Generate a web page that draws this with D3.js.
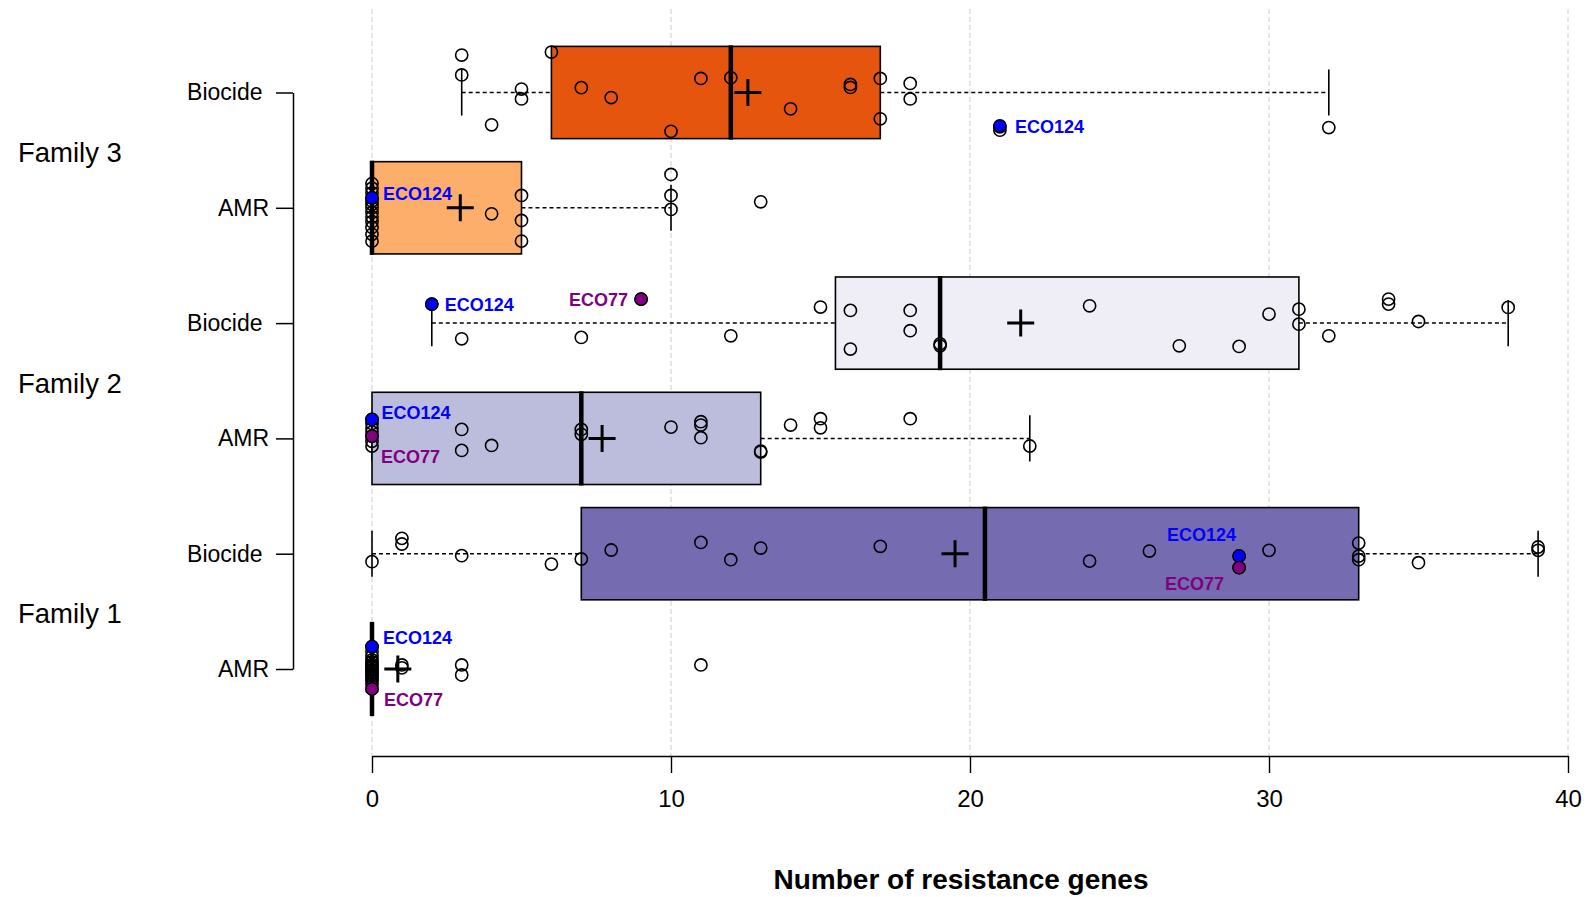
<!DOCTYPE html>
<html>
<head>
<meta charset="utf-8">
<script src="https://cdn.jsdelivr.net/npm/d3@7"></script>
<style>
  html, body { margin: 0; padding: 0; background: #fff; }
  svg text { font-family: "Liberation Sans", Arial, Helvetica, sans-serif; fill: #000; }
</style>
</head>
<body>
<svg id="chart" width="1592" height="897"></svg>
<script>
// ---- Data ---------------------------------------------------------------
// Groups listed bottom to top
const groupKeys  = ["F1 AMR", "F1 Biocide", "F2 AMR", "F2 Biocide", "F3 AMR", "F3 Biocide"];
const groupTypes = ["AMR", "Biocide", "AMR", "Biocide", "AMR", "Biocide"];
const families   = ["Family 1", "Family 2", "Family 3"];
const boxFills   = ["#ffffff", "#756bb1", "#bcbddc", "#efedf5", "#fdae6b", "#e6550d"];
const xTicks     = [0, 10, 20, 30, 40];
const xTitle     = "Number of resistance genes";

// Number of resistance genes per strain, with the vertical jitter of each dot
// (in units of the row spacing, positive = downwards)
const f1Amr = [0,0,0,0,0,0,0,0,0,0,0,0,0,0,0,0,0, 1,1,3,3,11];
const f1AmrJitter = [-0.194,-0.15,-0.11,-0.08,-0.06,-0.04,-0.025,-0.01,0.005,0.02,0.035,0.05,0.065,0.08,0.10,0.13,0.173,
                     -0.035,-0.01,-0.035,0.052,-0.035];

const f1Biocide = [0,1,1,3,6,7,8,11,12,13,17,24,26,29,29,30,33,33,33,35,39,39];
const f1BiocideJitter = [0.069,-0.133,-0.084,0.017,0.090,0.046,-0.032,-0.098,0.052,-0.049,-0.064,
                         0.064,-0.023,0.020,0.121,-0.029,-0.092,0.020,0.052,0.078,-0.058,-0.029];

const f2Amr = [0,0,0,0,0,0,0,3,3,4,7,7,10,11,11,11,13,13,14,15,15,18,22];
const f2AmrJitter = [-0.165,-0.13,-0.09,-0.055,-0.02,0.025,0.066,-0.078,0.104,0.061,-0.078,-0.035,
                     -0.098,-0.145,-0.116,-0.006,0.110,0.118,-0.116,-0.171,-0.092,-0.171,0.066];

const f2Biocide = [2,3,7,9,12,15,16,16,18,18,19,19,24,27,29,30,31,31,32,34,34,35,38];
const f2BiocideJitter = [-0.165,0.136,0.124,-0.208,0.110,-0.139,-0.110,0.225,-0.110,0.066,0.197,0.180,
                         -0.150,0.197,0.202,-0.078,-0.121,0.009,0.110,-0.208,-0.165,-0.014,-0.136];

const f3Amr = [0,0,0,0,0,0,0,0,0,0,0,0,0,4,5,5,5,10,10,10,13];
const f3AmrJitter = [-0.21,-0.17,-0.13,-0.087,-0.06,-0.03,0.0,0.04,0.08,0.12,0.17,0.23,0.29,
                     0.052,-0.107,0.110,0.289,-0.289,-0.107,0.014,-0.052];

const f3Biocide = [3,3,4,5,5,6,7,8,10,11,12,14,16,16,17,17,18,18,21,21,32];
const f3BiocideJitter = [-0.325,-0.152,0.280,-0.030,0.056,-0.351,-0.042,0.044,0.337,-0.122,-0.128,
                         0.142,-0.070,-0.044,-0.122,0.228,-0.079,0.056,0.298,0.327,0.304];

const groupValues = [f1Amr, f1Biocide, f2Amr, f2Biocide, f3Amr, f3Biocide];
const groupJitter = [f1AmrJitter, f1BiocideJitter, f2AmrJitter, f2BiocideJitter, f3AmrJitter, f3BiocideJitter];

// Reference strains
const highlightStrain = ["ECO124", "ECO124", "ECO124", "ECO77", "ECO124", "ECO77", "ECO124", "ECO77", "ECO124", "ECO77"];
const highlightGroup  = ["F3 Biocide", "F3 AMR", "F2 Biocide", "F2 Biocide", "F2 AMR", "F2 AMR", "F1 Biocide", "F1 Biocide", "F1 AMR", "F1 AMR"];
const highlightValue  = [21, 0, 2, 9, 0, 0, 29, 29, 0, 0];
const highlightJitter = [0.29, -0.087, -0.165, -0.208, -0.165, -0.02, 0.02, 0.121, -0.194, 0.173];

// ---- Layout --------------------------------------------------------------
const strainColor = { ECO124: "#0000ff", ECO77: "#800080" };
// label placement relative to its dot: [dx, dy (text centre), anchor]
const labelPlace = [
  [15, 1, "start"], [11, -4.5, "start"], [13, 1, "start"], [-13, 0, "end"],
  [9.5, -6.5, "start"], [9, 21, "start"], [-72, -21, "start"], [-74, 16, "start"],
  [11, -9.5, "start"], [12, 10.5, "start"]
];

const svg = d3.select("#chart");

const x = d3.scaleLinear().domain([0, 40]).range([372, 1568]);
const y = d3.scalePoint().domain(groupKeys).range([669, 92.5]);
const band = y.step();
const halfBox = 0.4 * band;
const axisY = 756;

// Tukey five-number summary (hinges) as used by classic boxplots
function fivenum(arr) {
  const s = arr.slice().sort((a, b) => a - b);
  const n = s.length;
  const n4 = Math.floor((n + 3) / 2) / 2;
  const idx = [1, n4, (n + 1) / 2, n + 1 - n4, n];
  return idx.map(i => 0.5 * (s[Math.floor(i) - 1] + s[Math.ceil(i) - 1]));
}

const stats = groupKeys.map((k, i) => {
  const v = groupValues[i];
  const f = fivenum(v);
  const iqr = f[3] - f[1];
  const lo = d3.min(v.filter(d => d >= f[1] - 1.5 * iqr));
  const hi = d3.max(v.filter(d => d <= f[3] + 1.5 * iqr));
  return { key: k, q1: f[1], med: f[2], q3: f[3], lo, hi, mean: d3.mean(v), fill: boxFills[i] };
});

// ---- Grid -----------------------------------------------------------------
svg.append("g").selectAll("line").data(xTicks).join("line")
  .attr("x1", d => x(d)).attr("x2", d => x(d))
  .attr("y1", 9).attr("y2", axisY)
  .attr("stroke", "#cccccc").attr("stroke-width", 1)
  .attr("stroke-dasharray", "5,3");

// ---- Boxes ------------------------------------------------------------------
const boxes = svg.append("g").selectAll("g").data(stats).join("g")
  .attr("transform", d => `translate(0,${y(d.key)})`);

// whiskers (dashed) and staples
boxes.append("line")
  .attr("x1", d => x(d.lo)).attr("x2", d => x(d.q1)).attr("y1", 0).attr("y2", 0)
  .attr("stroke", "#000").attr("stroke-width", 1.5).attr("stroke-dasharray", "4,3");
boxes.append("line")
  .attr("x1", d => x(d.q3)).attr("x2", d => x(d.hi)).attr("y1", 0).attr("y2", 0)
  .attr("stroke", "#000").attr("stroke-width", 1.5).attr("stroke-dasharray", "4,3");
boxes.append("line")
  .attr("x1", d => x(d.lo)).attr("x2", d => x(d.lo))
  .attr("y1", -halfBox / 2).attr("y2", halfBox / 2)
  .attr("stroke", "#000").attr("stroke-width", 1.6);
boxes.append("line")
  .attr("x1", d => x(d.hi)).attr("x2", d => x(d.hi))
  .attr("y1", -halfBox / 2).attr("y2", halfBox / 2)
  .attr("stroke", "#000").attr("stroke-width", 1.6);

boxes.append("rect")
  .attr("x", d => x(d.q1)).attr("width", d => x(d.q3) - x(d.q1))
  .attr("y", -halfBox).attr("height", 2 * halfBox)
  .attr("fill", d => d.fill).attr("stroke", "#000").attr("stroke-width", 1.6);

boxes.append("line")
  .attr("x1", d => x(d.med)).attr("x2", d => x(d.med))
  .attr("y1", -halfBox - 1).attr("y2", halfBox + 1)
  .attr("stroke", "#000").attr("stroke-width", 4.5);

// ---- Strain dots ----------------------------------------------------------------
const dots = [];
groupKeys.forEach((k, i) => {
  groupValues[i].forEach((v, j) => dots.push({ key: k, v, j: groupJitter[i][j] }));
});
svg.append("g").selectAll("circle").data(dots).join("circle")
  .attr("cx", d => x(d.v))
  .attr("cy", d => y(d.key) + d.j * band)
  .attr("r", 6.1)
  .attr("fill", "none").attr("stroke", "#000").attr("stroke-width", 1.6);

// ---- Reference strains ------------------------------------------------------------
const hl = highlightStrain.map((s, i) => ({
  strain: s, key: highlightGroup[i], v: highlightValue[i], j: highlightJitter[i], place: labelPlace[i]
}));
const hlG = svg.append("g");
hlG.selectAll("circle").data(hl).join("circle")
  .attr("cx", d => x(d.v))
  .attr("cy", d => y(d.key) + d.j * band)
  .attr("r", 6.2)
  .attr("fill", d => strainColor[d.strain])
  .attr("stroke", "#000").attr("stroke-width", 1.3);
hlG.selectAll("text").data(hl).join("text")
  .attr("x", d => x(d.v) + d.place[0])
  .attr("y", d => y(d.key) + d.j * band + d.place[1] + 6.4)
  .attr("text-anchor", d => d.place[2])
  .attr("font-size", 18).attr("font-weight", "bold")
  .style("fill", d => strainColor[d.strain])
  .text(d => d.strain);

// ---- Means ---------------------------------------------------------------------
svg.append("g").selectAll("path").data(stats).join("path")
  .attr("transform", d => `translate(${x(d.mean)},${y(d.key)})`)
  .attr("d", "M-13.5,0H13.5M0,-13.5V13.5")
  .attr("stroke", "#000").attr("stroke-width", 3).attr("fill", "none");

// ---- Axes --------------------------------------------------------------------------
const xAxis = svg.append("g")
  .attr("transform", `translate(0,${axisY})`)
  .call(d3.axisBottom(x).tickValues(xTicks).tickSize(17).tickSizeOuter(0).tickPadding(17));
xAxis.selectAll("path, line").attr("stroke", "#000").attr("stroke-width", 1.4);
xAxis.selectAll("text").attr("font-size", 24).style("font-family", "'Liberation Sans', Arial, sans-serif");

const yAxis = svg.append("g")
  .attr("transform", "translate(293,0)")
  .call(d3.axisLeft(y).tickSize(17).tickSizeOuter(0).tickPadding(7)
        .tickFormat(k => groupTypes[groupKeys.indexOf(k)]));
yAxis.selectAll("path, line").attr("stroke", "#000").attr("stroke-width", 1.5);
yAxis.selectAll("text")
  .attr("font-size", 23)
  .attr("dx", k => groupTypes[groupKeys.indexOf(k)] === "Biocide" ? -6.5 : 0)
  .style("font-family", "'Liberation Sans', Arial, sans-serif");

// family labels, centred between their two rows
svg.append("g").selectAll("text").data(families).join("text")
  .attr("x", 18)
  .attr("y", (f, i) => (y(groupKeys[2 * i]) + y(groupKeys[2 * i + 1])) / 2 + 12)
  .attr("font-size", 27.5)
  .text(f => f);

svg.append("text")
  .attr("x", 961).attr("y", 889)
  .attr("text-anchor", "middle")
  .attr("font-size", 28).attr("font-weight", "bold")
  .text(xTitle);
</script>
</body>
</html>
